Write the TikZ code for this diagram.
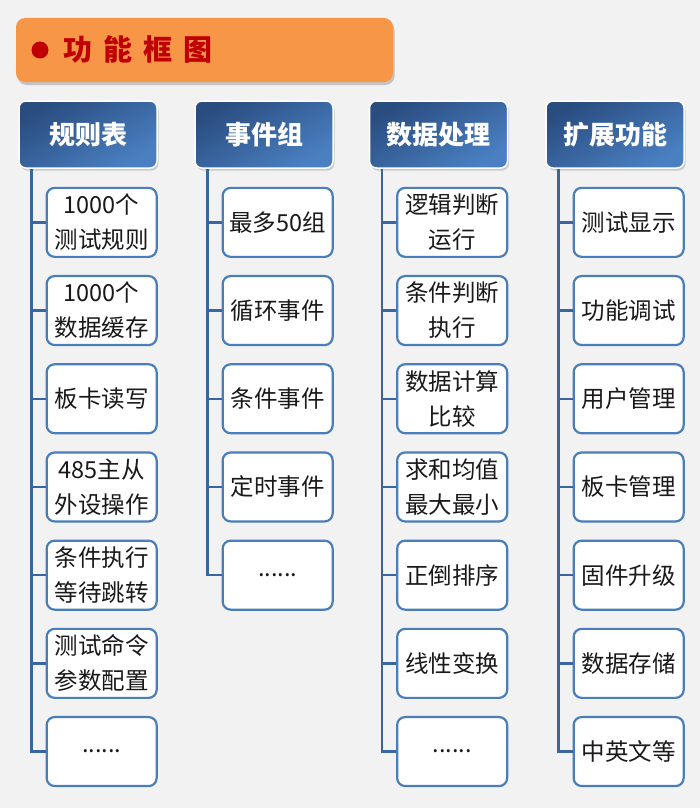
\documentclass[tikz,border=0pt]{standalone}
\usepackage{fontspec}
\setmainfont{Noto Sans CJK SC}
\usetikzlibrary{positioning,shadows}
\definecolor{pagebg}{HTML}{F2F2F2}
\definecolor{titleorange}{HTML}{F79646}
\definecolor{titlered}{HTML}{C00000}
\definecolor{headdark}{HTML}{2A4D80}
\definecolor{headlight}{HTML}{4A80C2}
\definecolor{boxblue}{HTML}{4A7EBB}
\definecolor{trunkblue}{HTML}{3A66A0}

\begin{document}
\begin{tikzpicture}[
    x=1pt, y=-1pt,
    node distance=17pt,
    head/.style={draw=white, line width=1.5pt, rounded corners=7pt, minimum width=138pt, minimum height=67pt, top color=headdark, bottom color=headlight, shading angle=30, text=white, font=\fontsize{26}{30}\selectfont\bfseries, drop shadow={opacity=0.35, shadow xshift=1.5pt, shadow yshift=-2.5pt}},
    item/.style={draw=boxblue, line width=2.2pt, rounded corners=8pt, fill=white, minimum width=110pt, minimum height=69pt, align=center, font=\fontsize{23.5}{35}\selectfont, text=black!90},
    trunk/.style={draw=trunkblue, line width=2.5pt}
]
  \fill[pagebg] (0,0) rectangle (700,808);

  % title bar
  \node (titlebar) [fill=titleorange, rounded corners=9pt, minimum width=377pt, minimum height=64pt, drop shadow={opacity=0.4, shadow xshift=1.5pt, shadow yshift=-3pt}] at (204.5,50) {};
  \fill[titlered] (40,50) circle (8.5pt);
  \node (titletext) [anchor=west, text=titlered, font=\fontsize{29}{32}\selectfont\bfseries] at (60,49) {功\hspace{11pt}能\hspace{11pt}框\hspace{11pt}图};

  % column heads
  \node (rule) [head] at (88,134.5) {规则表};
  \node (event) [head] at (264,134.5) {事件组};
  \node (data) [head] at (438.5,134.5) {数据处理};
  \node (ext) [head] at (615,134.5) {扩展功能};

  % rule table
  \node (rule1) [item, below left=18pt and 0pt of rule.south east] {1000个\\测试规则};
  \node (rule2) [item, below=of rule1] {1000个\\数据缓存};
  \node (rule3) [item, below=of rule2] {板卡读写};
  \node (rule4) [item, below=of rule3] {485主从\\外设操作};
  \node (rule5) [item, below=of rule4] {条件执行\\等待跳转};
  \node (rule6) [item, below=of rule5] {测试命令\\参数配置};
  \node (rule7) [item, below=of rule6] {......};

  % event group
  \node (ev1) [item, below left=18pt and 0pt of event.south east] {最多50组};
  \node (ev2) [item, below=of ev1] {循环事件};
  \node (ev3) [item, below=of ev2] {条件事件};
  \node (ev4) [item, below=of ev3] {定时事件};
  \node (ev5) [item, below=of ev4] {......};

  % data processing
  \node (dp1) [item, below left=18pt and 0pt of data.south east] {逻辑判断\\运行};
  \node (dp2) [item, below=of dp1] {条件判断\\执行};
  \node (dp3) [item, below=of dp2] {数据计算\\比较};
  \node (dp4) [item, below=of dp3] {求和均值\\最大最小};
  \node (dp5) [item, below=of dp4] {正倒排序};
  \node (dp6) [item, below=of dp5] {线性变换};
  \node (dp7) [item, below=of dp6] {......};

  % extended functions
  \node (ex1) [item, below left=18pt and 0pt of ext.south east] {测试显示};
  \node (ex2) [item, below=of ex1] {功能调试};
  \node (ex3) [item, below=of ex2] {用户管理};
  \node (ex4) [item, below=of ex3] {板卡管理};
  \node (ex5) [item, below=of ex4] {固件升级};
  \node (ex6) [item, below=of ex5] {数据存储};
  \node (ex7) [item, below=of ex6] {中英文等};

  % trunks and branches
  \coordinate (rulel) at ([xshift=13pt]rule.south west);
  \coordinate (eventl) at ([xshift=13pt]event.south west);
  \coordinate (datal) at ([xshift=13pt]data.south west);
  \coordinate (extl) at ([xshift=13pt]ext.south west);

  \draw[trunk] (rulel) |- (rule7.west);
  \draw[trunk] (eventl) |- (ev5.west);
  \draw[trunk] (datal) |- (dp7.west);
  \draw[trunk] (extl) |- (ex7.west);
  \foreach \i in {1,...,6} {
    \draw[trunk] (rulel |- rule\i.west) -- (rule\i.west);
    \draw[trunk] (datal |- dp\i.west) -- (dp\i.west);
    \draw[trunk] (extl |- ex\i.west) -- (ex\i.west);
  }
  \foreach \i in {1,...,4}
    \draw[trunk] (eventl |- ev\i.west) -- (ev\i.west);
\end{tikzpicture}
\end{document}
